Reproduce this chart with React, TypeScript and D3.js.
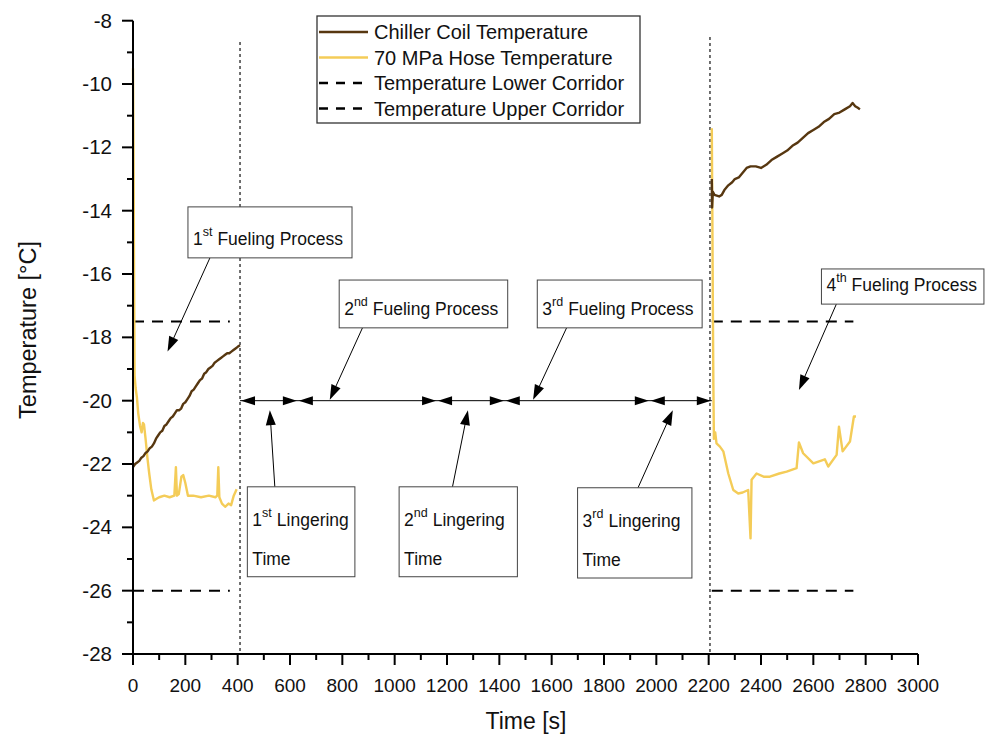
import React from "react";
import * as d3 from "d3";

// ---------- data ----------
const chillerA: [number, number][] = [
  [0, -22.1], [8, -22.0], [16, -21.95], [24, -21.9], [32, -21.8], [40, -21.75], [48, -21.65], [56, -21.6],
  [64, -21.5], [72, -21.45], [80, -21.35], [88, -21.2], [96, -21.1], [104, -21.0], [112, -20.95], [120, -20.8],
  [128, -20.75], [136, -20.65], [144, -20.55], [152, -20.5], [160, -20.4], [168, -20.3], [176, -20.3], [184, -20.25],
  [192, -20.1], [200, -20.05], [208, -19.95], [216, -19.85], [224, -19.7], [232, -19.65], [240, -19.55], [248, -19.45],
  [256, -19.35], [264, -19.3], [272, -19.15], [280, -19.1], [288, -19.0], [296, -18.95], [304, -18.9], [312, -18.8],
  [320, -18.75], [328, -18.7], [336, -18.65], [344, -18.6], [352, -18.55], [360, -18.5], [368, -18.5], [376, -18.45],
  [384, -18.4], [392, -18.35], [400, -18.3], [409, -18.25],
];
const chillerB: [number, number][] = [
  [2212, -13.0], [2213, -13.9], [2216, -13.4], [2222, -13.5], [2240, -13.55], [2250, -13.5], [2260, -13.35],
  [2275, -13.2], [2290, -13.1], [2300, -13.0], [2315, -12.95], [2330, -12.8], [2345, -12.65], [2360, -12.6],
  [2380, -12.6], [2400, -12.65], [2420, -12.55], [2440, -12.4], [2460, -12.3], [2480, -12.2], [2500, -12.1],
  [2520, -11.95], [2540, -11.85], [2560, -11.7], [2580, -11.55], [2600, -11.45], [2620, -11.35], [2640, -11.2],
  [2660, -11.1], [2680, -10.95], [2700, -10.9], [2720, -10.8], [2740, -10.7], [2750, -10.6], [2760, -10.7],
  [2770, -10.75], [2778, -10.8],
];
const hoseA: [number, number][] = [
  [0, -9.5], [2, -12], [4, -16], [6, -19.2], [10, -19.6], [15, -19.9], [20, -20.4], [27, -20.8], [33, -21.0],
  [38, -20.7], [42, -20.75], [48, -21.2], [55, -21.8], [62, -22.3], [70, -22.8], [80, -23.15], [90, -23.1],
  [100, -23.05], [120, -23.0], [140, -23.05], [158, -23.0], [164, -22.1], [168, -23.0], [175, -22.95], [185, -22.4],
  [192, -22.35], [200, -22.6], [210, -23.0], [230, -23.0], [260, -23.05], [290, -23.0], [315, -23.05], [322, -23.0],
  [326, -22.1], [330, -23.05], [340, -23.25], [352, -23.35], [365, -23.25], [375, -23.3], [385, -23.0], [396, -22.8],
];
const hoseB: [number, number][] = [
  [2212, -11.4], [2214, -14], [2216, -17], [2218, -19.5], [2220, -21.2], [2225, -21.0], [2230, -21.35],
  [2243, -21.45], [2256, -21.6], [2275, -22.3], [2294, -22.82], [2313, -22.93], [2330, -22.9], [2351, -22.82],
  [2360, -24.35], [2364, -22.5], [2383, -22.3], [2410, -22.4], [2434, -22.4], [2470, -22.3], [2498, -22.24],
  [2536, -22.13], [2545, -21.32], [2561, -21.66], [2600, -21.98], [2644, -21.85], [2657, -22.08], [2689, -21.71],
  [2698, -20.82], [2712, -21.6], [2740, -21.29], [2755, -20.5], [2763, -20.5],
];
const upperCorridor = -17.5;
const lowerCorridor = -26;
const corridorRanges: [number, number][] = [[0, 370], [2212, 2753]];
const phaseLines = [409, 2205];
const phaseBounds = [409, 630, 1162, 1421, 1975, 2212];
const phaseLevel = -20;

const xTicks = d3.range(0, 3001, 200);
const yTicks = d3.range(-28, -7, 2);

const legendLabels = [
  "Chiller Coil Temperature",
  "70 MPa Hose Temperature",
  "Temperature Lower Corridor",
  "Temperature Upper Corridor",
];

// annotation boxes: [t0, t1, v0, v1], label parts, arrow from [t,v] to [t,v]
const callouts = [
  { box: [210, 837, -13.88, -15.49], num: "1", sup: "st", rest: "Fueling Process", line2: "", from: [294, -15.49], to: [132, -18.45] },
  { box: [788, 1432, -16.19, -17.7], num: "2", sup: "nd", rest: "Fueling Process", line2: "", from: [877, -17.7], to: [752, -19.97] },
  { box: [1545, 2175, -16.19, -17.7], num: "3", sup: "rd", rest: "Fueling Process", line2: "", from: [1657, -17.7], to: [1529, -19.97] },
  { box: [2631, 3252, -15.84, -16.95], num: "4", sup: "th", rest: "Fueling Process", line2: "", from: [2688, -16.95], to: [2545, -19.66] },
  { box: [437, 848, -22.72, -25.56], num: "1", sup: "st", rest: "Lingering", line2: "Time", from: [542, -22.72], to: [523, -20.3] },
  { box: [1017, 1469, -22.72, -25.56], num: "2", sup: "nd", rest: "Lingering", line2: "Time", from: [1221, -22.72], to: [1280, -20.3] },
  { box: [1699, 2136, -22.75, -25.6], num: "3", sup: "rd", rest: "Lingering", line2: "Time", from: [1930, -22.75], to: [2063, -20.3] },
];

const FONT = "'Liberation Sans', Arial, Helvetica, sans-serif";
const CHILLER = "#573710";
const HOSE = "#f4cc58";

function ArrowHead({ x, y, angle, len = 14, half = 4.5 }: { x: number; y: number; angle: number; len?: number; half?: number }) {
  return (
    <path
      d={`M0,0 L${-len},${-half} L${-len},${half} Z`}
      transform={`translate(${x},${y}) rotate(${(angle * 180) / Math.PI})`}
      fill="#000"
    />
  );
}

export default function App() {
  const W = 987, H = 740;
  const x = d3.scaleLinear().domain([0, 3000]).range([133, 918]);
  const y = d3.scaleLinear().domain([-28, -8]).range([654, 20.7]);
  const line = d3.line<[number, number]>().x((d) => x(d[0])).y((d) => y(d[1]));

  const minorX = d3.range(100, 3000, 200);
  const minorY = d3.range(-27, -8, 2);

  const legX = 317, legY = 16;

  return (
    <svg width={W} height={H} style={{ position: "absolute", left: 0, top: 0, display: "block", background: "#fff" }} fontFamily={FONT}>
      <rect x={0} y={0} width={W} height={H} fill="#fff" />

      {/* phase dotted lines */}
      {phaseLines.map((t, i) => (
        <line key={i} x1={x(t)} x2={x(t)} y1={i === 0 ? 42 : 37} y2={y(-28)} stroke="#333" strokeWidth={1.4} strokeDasharray="3,3" />
      ))}

      {/* corridors */}
      {corridorRanges.map((r, i) => (
        <g key={i}>
          <line x1={x(r[0])} x2={x(r[1])} y1={y(upperCorridor)} y2={y(upperCorridor)} stroke="#000" strokeWidth={2} strokeDasharray="11,8" />
          <line x1={x(r[0])} x2={x(r[1])} y1={y(lowerCorridor)} y2={y(lowerCorridor)} stroke="#000" strokeWidth={2} strokeDasharray="11,8" />
        </g>
      ))}

      {/* series */}
      <path d={line(hoseA) || ""} fill="none" stroke={HOSE} strokeWidth={2.4} strokeLinejoin="round" />
      <path d={line(hoseB) || ""} fill="none" stroke={HOSE} strokeWidth={2.4} strokeLinejoin="round" />
      <path d={line(chillerA) || ""} fill="none" stroke={CHILLER} strokeWidth={2.4} strokeLinejoin="round" />
      <path d={line(chillerB) || ""} fill="none" stroke={CHILLER} strokeWidth={2.4} strokeLinejoin="round" />

      {/* phase arrows at -20 */}
      <line x1={x(phaseBounds[0])} x2={x(phaseBounds[phaseBounds.length - 1])} y1={y(phaseLevel)} y2={y(phaseLevel)} stroke="#000" strokeWidth={1} />
      {phaseBounds.slice(0, -1).map((t0, i) => {
        const t1 = phaseBounds[i + 1];
        const yy = y(phaseLevel);
        return (
          <g key={i}>
            <ArrowHead x={x(t0) + 1} y={yy} angle={Math.PI} />
            <ArrowHead x={x(t1) - 1} y={yy} angle={0} />
          </g>
        );
      })}

      {/* callouts */}
      {callouts.map((c, i) => {
        const bx0 = x(c.box[0]), bx1 = x(c.box[1]);
        const by0 = y(c.box[2]), by1 = y(c.box[3]);
        const fx = x(c.from[0]), fy = y(c.from[1]);
        const tx = x(c.to[0]), ty = y(c.to[1]);
        const ang = Math.atan2(ty - fy, tx - fx);
        const two = c.line2 !== "";
        const base = two ? by0 + 39 : by1 - 13;
        return (
          <g key={i}>
            <line x1={fx} y1={fy} x2={tx - Math.cos(ang) * 10} y2={ty - Math.sin(ang) * 10} stroke="#000" strokeWidth={1} />
            <ArrowHead x={tx} y={ty} angle={ang} len={15} half={5} />
            <rect x={bx0} y={by0} width={bx1 - bx0} height={by1 - by0} fill="#fff" stroke="#444" strokeWidth={1} />
            <text x={bx0 + 5} y={base} fontSize={17.5} fill="#111">
              <tspan>{c.num}</tspan>
              <tspan dy={-9} fontSize={12.5}>{c.sup}</tspan>
              <tspan dy={9} dx={5}>{c.rest}</tspan>
            </text>
            {two && (
              <text x={bx0 + 5} y={by1 - 12} fontSize={17.5} fill="#111">{c.line2}</text>
            )}
          </g>
        );
      })}

      {/* axes */}
      <line x1={x(0)} x2={x(3000)} y1={y(-28)} y2={y(-28)} stroke="#000" strokeWidth={2} />
      <line x1={x(0)} x2={x(0)} y1={y(-28)} y2={y(-8)} stroke="#000" strokeWidth={2} />
      {xTicks.map((t) => (
        <g key={"xt" + t}>
          <line x1={x(t)} x2={x(t)} y1={y(-28)} y2={y(-28) + 11} stroke="#000" strokeWidth={2} />
          <text x={x(t)} y={692} fontSize={19} textAnchor="middle" fill="#111">{t}</text>
        </g>
      ))}
      {minorX.map((t) => (
        <line key={"xm" + t} x1={x(t)} x2={x(t)} y1={y(-28)} y2={y(-28) + 6} stroke="#000" strokeWidth={2} />
      ))}
      {yTicks.map((v) => (
        <g key={"yt" + v}>
          <line x1={x(0) - 11} x2={x(0)} y1={y(v)} y2={y(v)} stroke="#000" strokeWidth={2} />
          <text x={112} y={y(v) + 7} fontSize={20.5} textAnchor="end" fill="#111">{v}</text>
        </g>
      ))}
      {minorY.map((v) => (
        <line key={"ym" + v} x1={x(0) - 6} x2={x(0)} y1={y(v)} y2={y(v)} stroke="#000" strokeWidth={2} />
      ))}

      <text x={526} y={729} fontSize={23} textAnchor="middle" fill="#111">Time [s]</text>
      <text transform={`translate(36,${330}) rotate(-90)`} fontSize={23.5} textAnchor="middle" fill="#111">Temperature [°C]</text>

      {/* legend */}
      <rect x={legX} y={legY} width={323} height={107} fill="#fff" stroke="#333" strokeWidth={1.3} />
      {legendLabels.map((lab, i) => {
        const base = legY + 23 + i * 25.5;
        const ly = base - 7;
        const color = i === 0 ? CHILLER : i === 1 ? HOSE : "#000";
        return (
          <g key={lab}>
            <line x1={legX + 2} x2={legX + 51} y1={ly} y2={ly} stroke={color} strokeWidth={2.4} strokeDasharray={i >= 2 ? "9,8" : undefined} />
            <text x={legX + 57} y={base} fontSize={20} fill="#111">{lab}</text>
          </g>
        );
      })}
    </svg>
  );
}
